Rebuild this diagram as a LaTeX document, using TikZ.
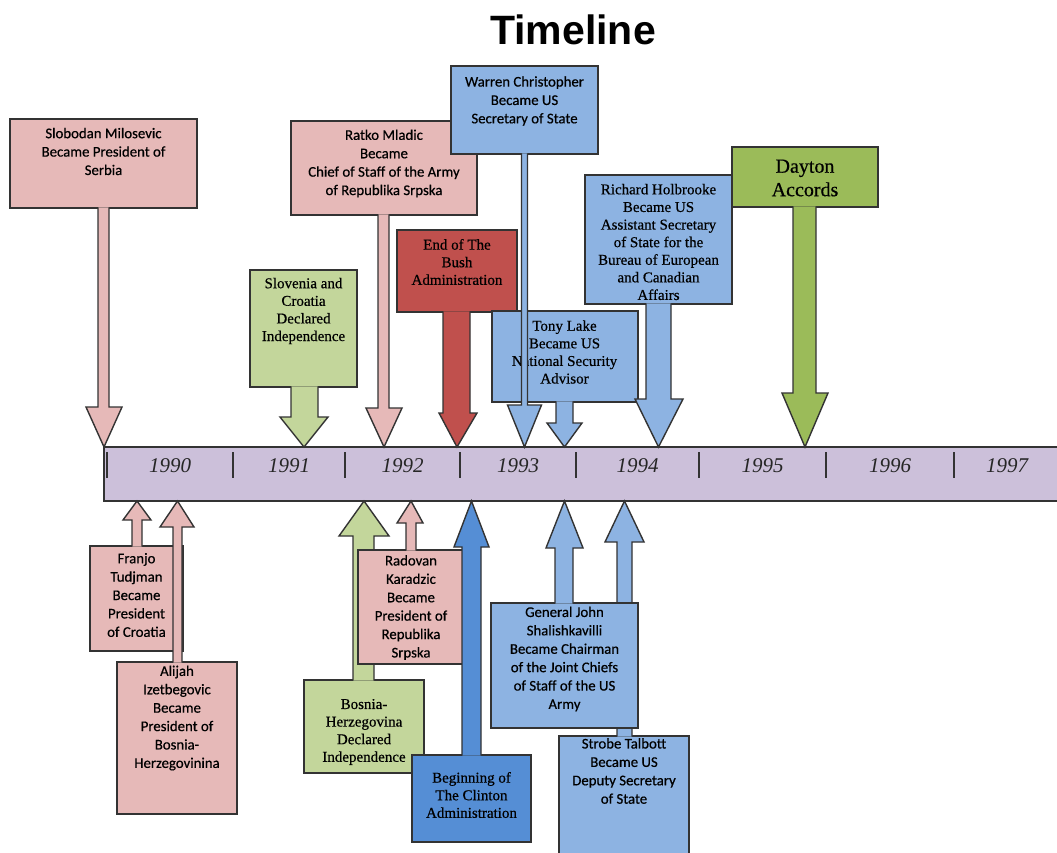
\documentclass[tikz,border=0pt]{standalone}
\usepackage{fontspec}
\setmainfont{Liberation Serif}
\newfontfamily\calib[FakeBold=0.5]{Carlito}
\newfontfamily\serift[FakeBold=0.5]{Liberation Serif}
\newfontfamily\titlefont{Liberation Sans}
\definecolor{pinkc}{HTML}{E6B9B8}
\definecolor{lgreen}{HTML}{C3D69B}
\definecolor{redc}{HTML}{C0504D}
\definecolor{bluec}{HTML}{8DB3E2}
\definecolor{dblue}{HTML}{558ED5}
\definecolor{dgreen}{HTML}{9BBB59}
\definecolor{lav}{HTML}{CCC0DA}
\definecolor{edgec}{HTML}{333333}
\tikzset{
  outl/.style={draw=edgec, line width=1.4pt, line join=miter},
  box/.style={outl, rectangle, inner sep=0pt, outer sep=0pt},
  stxt/.style={font=\calib\fontsize{14.8}{18.4}\selectfont, align=center, inner sep=0pt, text=black},
  rtxt/.style={font=\serift\fontsize{15}{17.6}\selectfont, align=center, inner sep=0pt, text=black},
  yeartxt/.style={font=\itshape\fontsize{21}{24}\selectfont, inner sep=0pt, text=black!85},
  tick/.style={draw=edgec, line width=1.2pt},
}
% name, colour, left, top, right, bottom
\newcommand\callbox[6]{\node[box, fill=#2, anchor=north west, minimum width={#5-#3}, minimum height={#6-#4}] (#1) at (#3,#4) {};}
% colour, shaft left, shaft right, base y, head y, wing left, wing right, tip
\newcommand\callarrow[8]{%
  \fill[#1] (#2,#4) -- (#2,#5) -- (#6,#5) -- (#8) -- (#7,#5) -- (#3,#5) -- (#3,#4) -- cycle;
  \draw[outl] (#2,#4) -- (#2,#5) -- (#6,#5) -- (#8) -- (#7,#5) -- (#3,#5) -- (#3,#4);}
\begin{document}
\begin{tikzpicture}[x=1pt,y=-1pt]
\useasboundingbox (0,0) rectangle (1057,852);
\clip (0,0) rectangle (1057,852);

\node[font=\titlefont\bfseries\fontsize{41}{41}\selectfont, inner sep=0pt] (title) at (573,29.5) {Timeline};

% timeline bar
\node[box, fill=lav, anchor=north west, minimum width=1000, minimum height=54] (bar) at (104,447) {};
\foreach \x/\n in {107/a,233/b,345/c,460/d,576/e,699/f,826/g,954/h}
  \draw[tick] (\x,452) -- (\x,478);
\foreach \x/\y in {170/1990,289/1991,402.5/1992,518/1993,637.5/1994,762.5/1995,890/1996,1007/1997}
  \node[yeartxt] (y\y) at (\x,465.5) {\y};

% ---------- top callouts ----------
\callbox{slobB}{pinkc}{10}{119}{197}{208}
\node[stxt] (slobT) at (103.5,151.5) {Slobodan Milosevic\\Became President of\\Serbia};
\coordinate (slobP) at (104,447);
\callarrow{pinkc}{98}{109}{207.3}{407}{86}{122}{slobP}

\callbox{slovB}{lgreen}{250}{270}{357}{387}
\node[rtxt] (slovT) at (303.5,311) {Slovenia and\\Croatia\\Declared\\Independence};
\coordinate (slovP) at (304,447);
\callarrow{lgreen}{291}{318}{386.3}{417}{280}{328}{slovP}

\callbox{ratkoB}{pinkc}{291}{121}{477}{215}
\node[stxt] (ratkoT) at (384,163.5) {Ratko Mladic\\Became\\Chief of Staff of the Army\\of Republika Srpska};
\coordinate (ratkoP) at (384,447);
\callarrow{pinkc}{378}{389}{214.3}{408}{366}{402}{ratkoP}

\callbox{bushB}{redc}{397}{230}{517}{312}
\node[rtxt] (bushT) at (457,262) {End of The\\Bush\\Administration};
\coordinate (bushP) at (457,447);
\callarrow{redc}{443}{470}{311.3}{413}{439}{477}{bushP}

\callbox{tonyB}{bluec}{492}{311}{638}{402}
\node[rtxt] (tonyT) at (564.5,352) {Tony Lake\\Became US\\National Security\\Advisor};
\coordinate (tonyP) at (564.5,447);
\callarrow{bluec}{556}{573}{401.3}{423}{547}{582}{tonyP}

\callbox{warrenB}{bluec}{451}{66}{598}{154}
\node[stxt] (warrenT) at (524.5,101) {Warren Christopher\\Became US\\Secretary of State};
\coordinate (warrenP) at (524.5,447);
\callarrow{bluec}{521.5}{527.5}{153.3}{405}{507.5}{541.5}{warrenP}

\callbox{holbB}{bluec}{585}{175}{732}{304}
\node[rtxt] (holbT) at (658.5,242) {Richard Holbrooke\\Became US\\Assistant Secretary\\of State for the\\Bureau of European\\and Canadian\\Affairs};
\coordinate (holbP) at (658.5,447);
\callarrow{bluec}{646}{671}{303.3}{399}{635}{683}{holbP}

\callbox{daytonB}{dgreen}{732}{147}{878}{207}
\node[font=\serift\fontsize{20}{23.5}\selectfont, align=center, inner sep=0pt] (daytonT) at (805,178) {Dayton\\Accords};
\coordinate (daytonP) at (805,447);
\callarrow{dgreen}{793}{816}{206.3}{393}{782}{828}{daytonP}

% ---------- bottom callouts ----------
\callbox{franjoB}{pinkc}{90}{546}{183}{651}
\node[stxt] (franjoT) at (136.5,595) {Franjo\\Tudjman\\Became\\President\\of Croatia};
\coordinate (franjoP) at (137,501);
\callarrow{pinkc}{132}{142}{546.7}{520}{123}{151}{franjoP}

\callbox{alijahB}{pinkc}{117}{662}{237}{814}
\node[stxt] (alijahT) at (177,718) {Alijah\\Izetbegovic\\Became\\President of\\Bosnia-\\Herzegovinina};
\coordinate (alijahP) at (177.5,501);
\callarrow{pinkc}{173}{182}{662.7}{527}{160}{194}{alijahP}

\callbox{bosniaB}{lgreen}{304}{680}{424}{773}
\node[rtxt] (bosniaT) at (364,732) {Bosnia-\\Herzegovina\\Declared\\Independence};
\coordinate (bosniaP) at (364,501);
\callarrow{lgreen}{353}{374}{680.7}{536}{339}{389}{bosniaP}

\callbox{radovanB}{pinkc}{358}{550}{464}{664}
\node[stxt] (radovanT) at (411,607.5) {Radovan\\Karadzic\\Became\\President of\\Republika\\Srpska};
\coordinate (radovanP) at (411,501);
\callarrow{pinkc}{406}{416}{550.7}{523}{397}{423}{radovanP}

\callbox{clintonB}{dblue}{412}{755}{531}{842}
\node[rtxt] (clintonT) at (471.5,795) {Beginning of\\The Clinton\\Administration};
\coordinate (clintonP) at (471.5,501);
\callarrow{dblue}{462}{481}{755.7}{547}{454}{489}{clintonP}

\callbox{strobeB}{bluec}{559}{736}{689}{870}
\node[stxt] (strobeT) at (624,771) {Strobe Talbott\\Became US\\Deputy Secretary\\of State};
\coordinate (strobeP) at (624.5,501);
\callarrow{bluec}{617}{632}{736.7}{542}{605}{644}{strobeP}

\callbox{generalB}{bluec}{491}{603}{638}{728}
\node[stxt] (generalT) at (564.5,659) {General John\\Shalishkavilli\\Became Chairman\\of the Joint Chiefs\\of Staff of the US\\Army};
\coordinate (generalP) at (564.5,501);
\callarrow{bluec}{555}{573}{603.7}{548}{546}{583}{generalP}
\end{tikzpicture}
\end{document}
